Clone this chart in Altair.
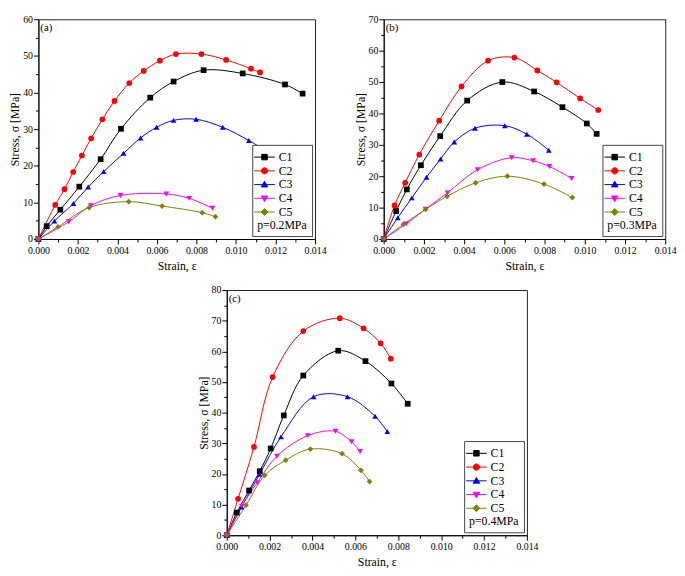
import altair as alt
import pandas as pd

FONT = "Liberation Serif"

series = ["C1", "C2", "C3", "C4", "C5"]
colors = ["#000000", "#ff0000", "#0000ff", "#ff00ff", "#808000"]
shapes = ["square", "circle", "triangle-up", "triangle-down", "diamond"]
legend_paths = [
    "M-1.5,0L1.5,0M-0.4,-0.4L0.4,-0.4L0.4,0.4L-0.4,0.4Z",
    "M-1.5,0L1.5,0M0.45,0A0.45,0.45 0 1,1 -0.45,0A0.45,0.45 0 1,1 0.45,0Z",
    "M-1.5,0L1.5,0M0,-0.48L0.48,0.34L-0.48,0.34Z",
    "M-1.5,0L1.5,0M0,0.48L0.48,-0.34L-0.48,-0.34Z",
    "M-1.5,0L1.5,0M0,-0.5L0.5,0L0,0.5L-0.5,0Z",
]

# ---- panel (a), p = 0.2 MPa ----
strain_a = {
    "C1": [0, 0.00042, 0.00111, 0.00207, 0.00315, 0.00418, 0.00566, 0.00684, 0.00836, 0.01034, 0.01248, 0.01337],
    "C2": [0, 0.00085, 0.00132, 0.00176, 0.00220, 0.00267, 0.00324, 0.00385, 0.00460, 0.00533, 0.00615, 0.00696, 0.00825, 0.00950, 0.01076, 0.01122],
    "C3": [0, 0.00081, 0.00177, 0.00252, 0.00330, 0.00431, 0.00517, 0.00598, 0.00684, 0.00798, 0.00933, 0.01065, 0.01161],
    "C4": [0, 0.00153, 0.00265, 0.00415, 0.00647, 0.00763, 0.00881],
    "C5": [0, 0.00099, 0.00257, 0.00457, 0.00626, 0.00829, 0.00896],
}
stress_a = {
    "C1": [0, 3.5, 8.0, 14.3, 21.8, 30.1, 38.6, 43.0, 46.1, 45.2, 42.2, 39.7],
    "C2": [0, 9.3, 13.6, 18.3, 22.8, 27.5, 32.7, 37.7, 42.6, 45.9, 48.7, 50.5, 50.5, 48.9, 46.5, 45.5],
    "C3": [0, 4.9, 9.7, 14.2, 18.4, 23.4, 27.6, 30.5, 32.4, 32.7, 30.5, 26.9, 23.8],
    "C4": [0, 4.7, 9.1, 11.9, 12.3, 11.1, 8.4],
    "C5": [0, 3.3, 8.6, 10.2, 9.0, 7.2, 6.1],
}

# ---- panel (b), p = 0.3 MPa ----
strain_b = {
    "C1": [0, 0.00062, 0.00115, 0.00185, 0.00281, 0.00415, 0.00590, 0.00748, 0.00889, 0.01010, 0.01059],
    "C2": [0, 0.00054, 0.00107, 0.00177, 0.00276, 0.00387, 0.00519, 0.00650, 0.00764, 0.00860, 0.00977, 0.01067],
    "C3": [0, 0.00070, 0.00140, 0.00213, 0.00283, 0.00351, 0.00454, 0.00602, 0.00712, 0.00821],
    "C4": [0, 0.00111, 0.00208, 0.00317, 0.00467, 0.00636, 0.00743, 0.00824, 0.00935],
    "C5": [0, 0.00098, 0.00208, 0.00315, 0.00457, 0.00615, 0.00797, 0.00938],
}
stress_b = {
    "C1": [0, 8.9, 15.8, 23.5, 32.8, 44.1, 50.0, 47.0, 42.0, 36.8, 33.5],
    "C2": [0, 10.7, 17.9, 26.9, 37.7, 48.6, 56.8, 57.8, 53.7, 49.9, 44.8, 41.1],
    "C3": [0, 6.8, 13.1, 19.7, 25.5, 30.9, 35.3, 36.1, 33.4, 28.3],
    "C4": [0, 4.8, 9.5, 14.7, 22.1, 25.9, 24.9, 23.1, 19.3],
    "C5": [0, 4.7, 9.4, 13.6, 17.9, 20.0, 17.5, 13.2],
}

# ---- panel (c), p = 0.4 MPa ----
strain_c = {
    "C1": [0, 0.00047, 0.00104, 0.00154, 0.00205, 0.00266, 0.00357, 0.00520, 0.00647, 0.00768, 0.00844],
    "C2": [0, 0.00053, 0.00127, 0.00214, 0.00357, 0.00527, 0.00638, 0.00718, 0.00765],
    "C3": [0, 0.00069, 0.00153, 0.00253, 0.00405, 0.00563, 0.00692, 0.00749],
    "C4": [0, 0.00070, 0.00142, 0.00234, 0.00378, 0.00507, 0.00582, 0.00622],
    "C5": [0, 0.00090, 0.00177, 0.00275, 0.00390, 0.00538, 0.00626, 0.00666],
}
stress_c = {
    "C1": [0, 7.4, 14.6, 20.9, 28.3, 39.1, 52.1, 60.2, 56.8, 49.5, 42.9],
    "C2": [0, 11.9, 28.8, 51.6, 66.6, 70.8, 67.5, 62.6, 57.6],
    "C3": [0, 9.2, 19.9, 32.1, 45.2, 45.2, 38.8, 33.8],
    "C4": [0, 9.5, 17.1, 25.8, 32.5, 33.9, 30.5, 27.3],
    "C5": [0, 9.8, 19.5, 24.5, 28.1, 26.6, 21.2, 17.5],
}

x_ticks = [round(i * 0.001, 3) for i in range(15)]

AXIS_STYLE = dict(
    labelFont=FONT,
    labelFontSize=10,
    labelColor="black",
    titleFont=FONT,
    titleFontSize=12,
    titleFontWeight="normal",
    titleColor="black",
    domainColor="black",
    tickColor="black",
    grid=False,
    labelOverlap=False,
    labelFlush=False,
)


def make_df(strain, stress):
    rows = []
    for s in series:
        for x, y in zip(strain[s], stress[s]):
            rows.append({"series": s, "strain": x, "stress": y})
    return pd.DataFrame(rows)


def panel(strain, stress, ymax, label, pressure, w, h):
    df = make_df(strain, stress)
    y_ticks = list(range(0, ymax + 1, 5))
    xenc = alt.X(
        "strain:Q",
        scale=alt.Scale(domain=[0, 0.014], nice=False),
        title="Strain, ε",
        axis=alt.Axis(
            values=x_ticks,
            labelExpr="round(datum.value*1000) % 2 == 0 ? format(datum.value, '.3f') : ''",
            tickSize={"condition": {"test": "round(datum.value*1000) % 2 == 0", "value": 5}, "value": 3},
            labelPadding=2,
            titlePadding=5,
            **AXIS_STYLE,
        ),
    )
    yenc = alt.Y(
        "stress:Q",
        scale=alt.Scale(domain=[0, ymax], nice=False),
        title="Stress, σ [MPa]",
        axis=alt.Axis(
            values=y_ticks,
            labelExpr="datum.value % 10 == 0 ? datum.label : ''",
            tickSize={"condition": {"test": "datum.value % 10 == 0", "value": 5}, "value": 3},
            labelPadding=1,
            titlePadding=1,
            **AXIS_STYLE,
        ),
    )
    layers = []
    # smooth curve of each series (constant colour, no legend channel)
    for s, c in zip(series, colors):
        layers.append(
            alt.Chart(df)
            .transform_filter(alt.datum.series == s)
            .mark_line(interpolate="catmull-rom", strokeWidth=1, color=c)
            .encode(x=xenc, y=yenc)
        )
    # markers of each series
    for s, c, shp in zip(series, colors, shapes):
        layers.append(
            alt.Chart(df)
            .transform_filter(alt.datum.series == s)
            .mark_point(shape=shp, filled=True, color=c, size=34, opacity=1)
            .encode(x=xenc, y=yenc)
        )
    # legend carrier (invisible marks; legend symbols are line + marker)
    leg = dict(
        title=pressure,
        titleOrient="bottom",
        titleAnchor="start",
        orient="bottom-right",
        offset=3,
        strokeColor="#444444",
        fillColor="white",
        padding=5,
        labelFont=FONT,
        labelFontSize=12,
        labelColor="black",
        labelOffset=7,
        titleFont=FONT,
        titleFontSize=12,
        titleFontWeight="normal",
        titleColor="black",
        titlePadding=2,
        symbolSize=196,
        symbolStrokeWidth=1,
        symbolOpacity=1,
        rowPadding=0,
    )
    layers.append(
        alt.Chart(df)
        .mark_point(filled=True, opacity=0)
        .encode(
            x=xenc,
            y=yenc,
            fill=alt.Fill("series:N", scale=alt.Scale(domain=series, range=colors), legend=alt.Legend(**leg)),
            stroke=alt.Stroke("series:N", scale=alt.Scale(domain=series, range=colors), legend=alt.Legend(**leg)),
            shape=alt.Shape("series:N", scale=alt.Scale(domain=series, range=legend_paths), legend=alt.Legend(**leg)),
        )
    )
    tag = alt.Chart(pd.DataFrame({"t": [label]})).mark_text(
        align="left", baseline="top", font=FONT, fontSize=11, fontWeight="normal", color="black"
    ).encode(text="t:N", x=alt.value(2), y=alt.value(3))
    layers.append(tag)
    return alt.layer(*layers).properties(width=w, height=h)


INDEP = dict(fill="independent", stroke="independent", shape="independent")

pa = panel(strain_a, stress_a, 60, "(a)", "p=0.2MPa", 282, 224)
pb = panel(strain_b, stress_b, 70, "(b)", "p=0.3MPa", 287, 224)
pc = panel(strain_c, stress_c, 80, "(c)", "p=0.4MPa", 306, 250)

spacer = (
    alt.Chart(pd.DataFrame({"a": [0]}))
    .mark_point(opacity=0)
    .properties(width=160, height=10, view=alt.ViewBackground(stroke="transparent"))
)

top = alt.hconcat(pa, pb, spacing=27).resolve_scale(**INDEP)
bottom = alt.hconcat(spacer, pc, spacing=0).resolve_scale(**INDEP)

chart = (
    alt.vconcat(top, bottom, spacing=12)
    .resolve_scale(**INDEP)
    .properties(padding=0)
    .configure_view(stroke="#222222", strokeWidth=1)
)

chart.save("out.html", embed_options={"renderer": "svg", "actions": False})
